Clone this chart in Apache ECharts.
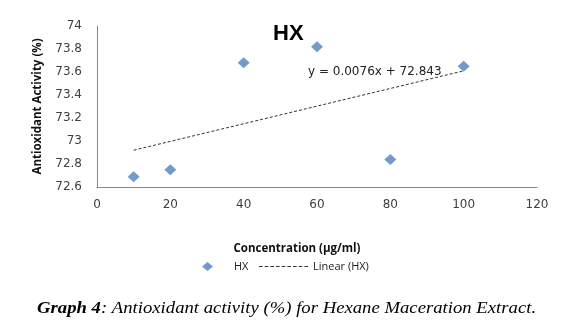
<!DOCTYPE html>
<html>
<head>
<meta charset="utf-8">
<script src="https://cdn.jsdelivr.net/npm/echarts@6/dist/echarts.min.js"></script>
<style>html,body{margin:0;padding:0;background:#fff}#c{width:570px;height:329px}</style>
</head>
<body>
<div id="c"></div>
<script>
const concentrations = [10, 20, 40, 60, 80, 100];
const activityHX = [72.69, 72.75, 73.68, 73.82, 72.84, 73.65];
const trendX = [10, 100];
const trendY = [72.92, 73.61];
const xTicks = [0, 20, 40, 60, 80, 100, 120];
const yTicks = [72.6, 72.8, 73, 73.2, 73.4, 73.6, 73.8, 74];

// legend icons (style only)
let dashPath = 'path://';
for (let i = 0; i < 9; i++) { const s = i * 5.5; dashPath += 'M' + s + ' 0h3.5v1h-3.5z'; }

const chart = echarts.init(document.getElementById('c'), null, {renderer: 'canvas'});
const font = '"DejaVu Sans", sans-serif';
const nameFont = '"Open Sans", sans-serif';
chart.setOption({
  animation: false,
  backgroundColor: '#fff',
  grid: {left: 97, right: 33, top: 26, bottom: 142, containLabel: false},
  title: {text: 'HX', left: 268, top: 18, textStyle: {fontFamily: 'Liberation Sans, Arial', fontWeight: 'bold', fontSize: 22, color: '#000'}},
  legend: [
    {
      left: 197, top: 256, itemWidth: 11, itemHeight: 9,
      textStyle: {fontFamily: nameFont, fontSize: 11, color: '#222', padding: [0, 0, 0, 16]},
      data: [{name: 'HX', icon: 'diamond', itemStyle: {color: '#4F81BD'}}]
    },
    {
      left: 254, top: 256, itemWidth: 49, itemHeight: 9,
      textStyle: {fontFamily: nameFont, fontSize: 11, color: '#222'},
      data: [{name: 'Linear (HX)', icon: dashPath, itemStyle: {color: '#333'}}]
    }
  ],
  xAxis: {
    type: 'value', min: xTicks[0], max: xTicks[xTicks.length - 1], interval: 20,
    name: 'Concentration (µg/ml)', nameLocation: 'middle', nameGap: 56,
    nameTextStyle: {fontFamily: nameFont, fontWeight: 'bold', fontSize: 11.5, color: '#111', padding: [0, 40, 0, 0]},
    axisLine: {show: true, lineStyle: {color: '#888', width: 1}},
    axisTick: {show: false}, splitLine: {show: false},
    axisLabel: {fontFamily: font, fontSize: 12, color: '#404040', margin: 12}
  },
  yAxis: {
    type: 'value', min: yTicks[0], max: yTicks[yTicks.length - 1], interval: 0.2,
    name: 'Antioxidant Activity (%)', nameLocation: 'middle', nameGap: 53, nameRotate: 90,
    nameTextStyle: {fontFamily: nameFont, fontWeight: 'bold', fontSize: 11.5, color: '#111'},
    axisLine: {show: true, lineStyle: {color: '#888', width: 1}},
    axisTick: {show: false}, splitLine: {show: false},
    axisLabel: {fontFamily: font, fontSize: 12, color: '#404040', margin: 15,
      formatter: v => String(Math.round(v * 10) / 10)}
  },
  series: [
    {
      name: 'HX', type: 'scatter', symbol: 'diamond', symbolSize: [12, 11],
      itemStyle: {color: '#4F81BD'},
      data: concentrations.map((c, i) => [c, activityHX[i]])
    },
    {
      name: 'Linear (HX)', type: 'line', symbol: 'none',
      lineStyle: {color: '#333', width: 1, type: [3, 2]},
      itemStyle: {color: '#333'},
      data: trendX.map((c, i) => [c, trendY[i]]),
      z: 1
    }
  ],
  graphic: [
    {type: 'text', left: 308, top: 66, style: {text: 'y = 0.0076x + 72.843', font: '12px "DejaVu Sans", sans-serif', fill: '#222'}},
    {type: 'text', x: 37, y: 309, scaleX: 1.1, style: {
      textVerticalAlign: 'middle',
      rich: {
        b: {fontFamily: 'Liberation Serif, serif', fontStyle: 'italic', fontWeight: 'bold', fontSize: 17, fill: '#000'},
        i: {fontFamily: 'Liberation Serif, serif', fontStyle: 'italic', fontSize: 17, fill: '#000'}
      },
      text: '{b|Graph 4}{i|: Antioxidant activity (%) for Hexane Maceration Extract.}'
    }}
  ]
});
</script>
</body>
</html>
